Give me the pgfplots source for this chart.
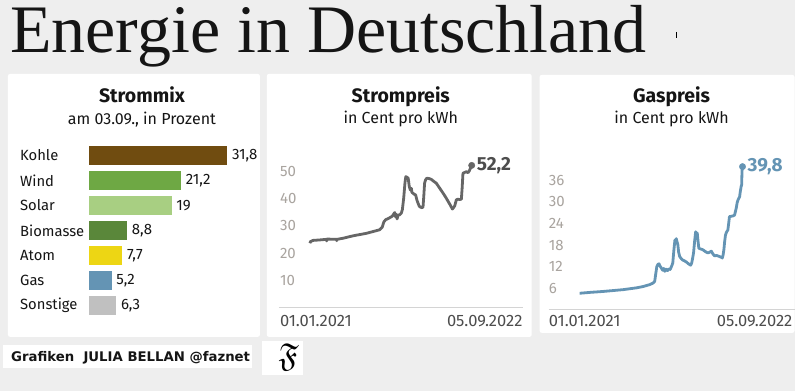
\documentclass[border=0pt]{standalone}
\usepackage{amssymb}
\usepackage{pgfplots}
\pgfplotsset{compat=1.18}
\usepackage{fontspec}
\setmainfont{Fira Sans}
\newfontfamily\titlefont{Liberation Serif}
\newfontfamily\footfont{DejaVu Sans}
\definecolor{bg}{HTML}{EEEEEE}
\definecolor{kohle}{HTML}{704C10}
\definecolor{wind}{HTML}{6EA844}
\definecolor{solar}{HTML}{A8CF82}
\definecolor{biomasse}{HTML}{5A873A}
\definecolor{atom}{HTML}{EDD614}
\definecolor{gasc}{HTML}{6494B4}
\definecolor{sonstige}{HTML}{C0C0C0}
\definecolor{stromc}{HTML}{666666}
\definecolor{tickgray}{HTML}{A9A49F}
\definecolor{axisgray}{HTML}{D4D4D4}
\definecolor{xlab}{HTML}{4D4D4D}
\definecolor{txt}{HTML}{151515}
\begin{document}
\begin{tikzpicture}
% background
\fill[bg] (0pt,0pt) rectangle (795pt,-391pt);
% title
\node[anchor=base west, inner sep=0pt, text=txt] at (10pt,-53pt) {\titlefont\fontsize{68}{70}\selectfont Energie in Deutschland};
\draw[black, line width=0.8pt] (677pt,-32pt) -- (677pt,-38pt);
% panels
\fill[white, rounded corners=2pt] (8pt,-74pt) rectangle (260pt,-337pt);
\fill[white, rounded corners=2pt] (267pt,-74pt) rectangle (532pt,-337pt);
\fill[white, rounded corners=2pt] (540pt,-75pt) rectangle (795pt,-333pt);
% footer
\fill[white] (3pt,-345pt) rectangle (252pt,-368pt);
\node[anchor=base west, inner sep=0pt, text=txt] at (11pt,-362pt) {\resizebox{239pt}{!}{\footfont\bfseries\fontsize{12}{14}\selectfont Grafiken\ \ JULIA BELLAN @faznet}};
\fill[white] (262pt,-341pt) rectangle (303pt,-375pt);
\node[inner sep=0pt] at (289pt,-357pt) {\scalebox{3.3}{$\mathfrak{F}$}};
% panel titles
\node[anchor=base, inner sep=0pt, text=txt] at (142pt,-103pt) {\fontsize{19.5}{22}\selectfont\bfseries Strommix};
\node[anchor=base, inner sep=0pt, text=txt] at (142pt,-125pt) {\fontsize{16}{18}\selectfont am 03.09., in Prozent};
\node[anchor=base, inner sep=0pt, text=txt] at (401pt,-103pt) {\fontsize{19.5}{22}\selectfont\bfseries Strompreis};
\node[anchor=base, inner sep=0pt, text=txt] at (401pt,-124pt) {\fontsize{16}{18}\selectfont in Cent pro kWh};
\node[anchor=base, inner sep=0pt, text=txt] at (672pt,-103pt) {\fontsize{19.5}{22}\selectfont\bfseries Gaspreis};
\node[anchor=base, inner sep=0pt, text=txt] at (672pt,-124pt) {\fontsize{16}{18}\selectfont in Cent pro kWh};

% ---------- Strommix ----------
\begin{axis}[
  at={(89pt,-318pt)}, anchor=south west,
  scale only axis, width=138.5pt, height=175pt,
  xmin=0, xmax=31.8, ymin=-0.5, ymax=6.5, y dir=reverse,
  enlargelimits=false, clip=false,
  axis x line=none, axis y line*=left, y axis line style={draw=none},
  major tick length=0pt,
  ytick={0,1,2,3,4,5,6},
  yticklabels={Kohle,Wind,Solar,Biomasse,Atom,Gas,Sonstige},
  yticklabel style={anchor=west, inner sep=0pt, xshift=-69pt, text=txt, font=\fontsize{14.8}{16}\selectfont},
  xbar, bar width=19pt, bar shift=0pt,
  point meta=x,
  nodes near coords={\pgfmathprintnumber{\pgfplotspointmeta}},
  nodes near coords style={anchor=west, inner sep=0pt, xshift=4.5pt, text=txt, font=\fontsize{15}{16}\selectfont, /pgf/number format/use comma, /pgf/number format/assume math mode=true},
]
\addplot[fill=kohle, draw=none] coordinates {(31.8,0)};
\addplot[fill=wind, draw=none] coordinates {(21.2,1)};
\addplot[fill=solar, draw=none] coordinates {(19,2)};
\addplot[fill=biomasse, draw=none] coordinates {(8.8,3)};
\addplot[fill=atom, draw=none] coordinates {(7.7,4)};
\addplot[fill=gasc, draw=none] coordinates {(5.2,5)};
\addplot[fill=sonstige, draw=none] coordinates {(6.3,6)};
\end{axis}

% ---------- Strompreis ----------
\begin{axis}[
  at={(279pt,-308pt)}, anchor=south west,
  scale only axis, width=244pt, height=163.8pt,
  xmin=-117, xmax=804.7, ymin=0, ymax=60,
  enlargelimits=false, clip=false,
  axis x line*=bottom, axis y line*=left,
  y axis line style={draw=none}, x axis line style={axisgray, line width=1pt},
  major tick length=0pt, xtick=\empty,
  ytick={10,20,30,40,50},
  yticklabel style={anchor=west, inner sep=0pt, xshift=1pt, text=tickgray, font=\fontsize{15}{16}\selectfont, /pgf/number format/assume math mode=true},
]
\addplot[stromc, line width=2.8pt, line join=round] coordinates {
(0,23.7) (3,24.3) (12,24.7) (40,24.9) (63,25.1) (64,24.5) (65,25.2) (101,25.1) (102,24.6) (103,25.1) (126,25.5) (164,26.4) (214,27.3) (264,28.6) (274,29.6) (280,31.5) (287,32.3) (300,32.9) (312,33.6) (318,34.5) (321,34.9) (324,33.4) (328,34.2) (330,32.6) (334,34.0) (340,34.1) (346,34.7) (350,36) (355,40.2) (360,46) (363,48.1) (368,47.8) (372,47.5) (376,44.5) (380,43.2) (384,43.8) (386,42.3) (390,42) (395,41.6) (400,41.4) (405,39.5) (409,38.4) (414,37.2) (418,36.9) (424,36.7) (428,36.9) (431,41) (434,45.7) (438,47.0) (443,47.5) (450,47.4) (459,47.1) (468,46.4) (478,45.7) (490,44) (504,42) (514,40.5) (523,39) (532,37.5) (539,36.2) (544,36.8) (548,37.4) (551,38.5) (554,39.6) (560,39.8) (566,39.7) (573,39.8) (576,44) (579,49.3) (585,49.6) (592,49.9) (598,49.5) (603,50.2) (607,51.1) (612,52.2)
};
\addplot[only marks, mark=*, mark size=3.2pt, stromc] coordinates {(612,52.2)};
\node[anchor=west, inner sep=0pt, xshift=5pt, text=xlab] at (axis cs:612,52.2) {\fontsize{19}{20}\selectfont\bfseries 52,2};
\node[anchor=base west, inner sep=0pt, text=xlab] at ([xshift=1pt, yshift=-19pt]rel axis cs:0,0) {\fontsize{16.5}{18}\selectfont 01.01.2021};
\node[anchor=base east, inner sep=0pt, text=xlab] at ([yshift=-19pt]rel axis cs:1,0) {\fontsize{16.5}{18}\selectfont 05.09.2022};
\end{axis}

% ---------- Gaspreis ----------
\begin{axis}[
  at={(549pt,-310pt)}, anchor=south west,
  scale only axis, width=246pt, height=162pt,
  xmin=-116.4, xmax=807.4, ymin=0, ymax=45,
  enlargelimits=false, clip=false,
  axis x line*=bottom, axis y line*=left,
  y axis line style={draw=none}, x axis line style={axisgray, line width=1pt},
  major tick length=0pt, xtick=\empty,
  ytick={6,12,18,24,30,36},
  yticklabel style={anchor=west, inner sep=0pt, xshift=0pt, text=tickgray, font=\fontsize{15}{16}\selectfont, /pgf/number format/assume math mode=true},
]
\addplot[gasc, line width=2.8pt, line join=round] coordinates {
(0,4.6) (40,4.85) (88,5.1) (163,5.6) (213,6.1) (240,6.5) (263,7.0) (275,7.4) (282,7.9) (286,10) (290,12.0) (294,12.6) (298,12.8) (302,12.2) (307,11.6) (312,11.0) (316,11.5) (320,10.7) (325,11.3) (330,10.9) (336,11.4) (340,11.2) (345,12.0) (350,13) (354,16.5) (358,19.4) (361,18.5) (363,19.8) (365,19.2) (369,18.1) (372,16.0) (376,14.8) (382,14.2) (388,13.8) (394,13.6) (401,13.3) (407,12.9) (413,12.6) (417,12.4) (421,13.0) (425,14.5) (428,15.8) (432,19) (436,21.7) (439,21.2) (442,21.3) (445,19) (448,17.1) (455,16.9) (463,16.7) (472,16.2) (482,15.8) (488,16.0) (495,16.3) (500,15.6) (507,15.0) (515,15.1) (526,14.8) (532,14.6) (536,14.4) (539,15.2) (542,16.7) (545,19) (548,20.8) (552,21.6) (557,22.2) (560,24) (563,25.9) (570,26.0) (576,26.1) (582,26.3) (585,27.2) (588,28.1) (592,29.8) (595,30.5) (598,31) (601,31.4) (604,33) (607,34.3) (609,34.8) (610,38.5) (612,39.8)
};
\addplot[only marks, mark=*, mark size=3.2pt, gasc] coordinates {(612,39.8)};
\node[anchor=west, inner sep=0pt, xshift=5pt, text=gasc] at (axis cs:612,39.8) {\fontsize{19}{20}\selectfont\bfseries 39,8};
\node[anchor=base west, inner sep=0pt, text=xlab] at ([yshift=-17pt]rel axis cs:0,0) {\fontsize{16.5}{18}\selectfont 01.01.2021};
\node[anchor=base east, inner sep=0pt, text=xlab] at ([xshift=-2pt, yshift=-17pt]rel axis cs:1,0) {\fontsize{16.5}{18}\selectfont 05.09.2022};
\end{axis}
\end{tikzpicture}
\end{document}
